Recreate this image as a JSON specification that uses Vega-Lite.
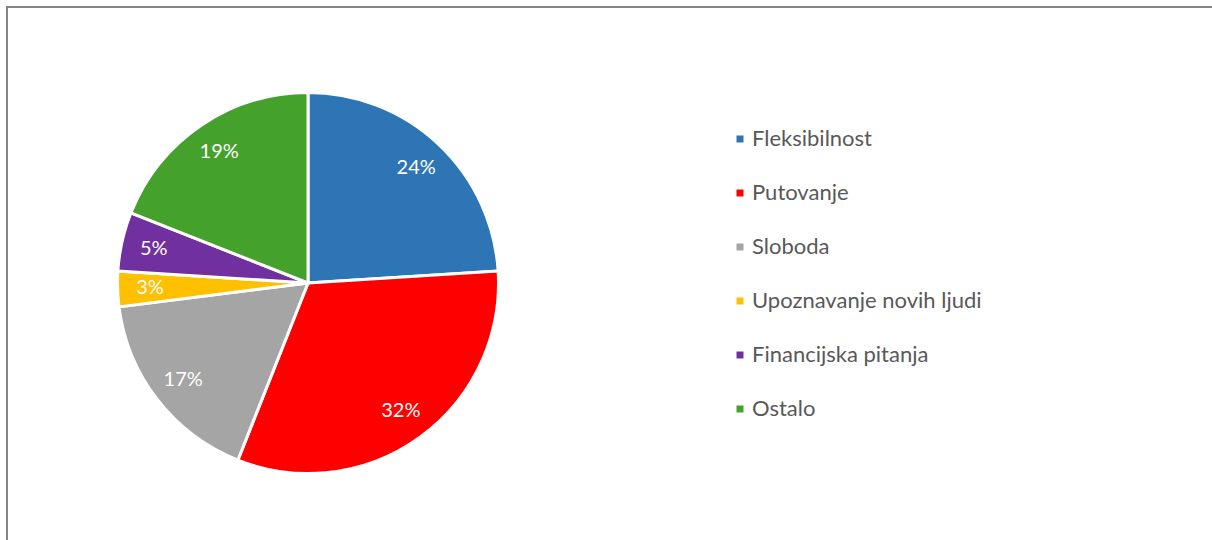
{
  "$schema": "https://vega.github.io/schema/vega-lite/v6.json",
  "autosize": "none",
  "padding": {"left": 7, "top": 7, "right": 0, "bottom": 0},
  "width": 1205,
  "height": 533,
  "background": "white",
  "config": {
    "view": {"stroke": "#868686", "strokeWidth": 2, "strokeDash": [1206, 1737, 534]},
    "font": "Lato"
  },
  "data": {
    "values": [
      {"kategorija": "Fleksibilnost", "udio": 0.24, "red": 1},
      {"kategorija": "Putovanje", "udio": 0.32, "red": 2},
      {"kategorija": "Sloboda", "udio": 0.17, "red": 3},
      {"kategorija": "Upoznavanje novih ljudi", "udio": 0.03, "red": 4},
      {"kategorija": "Financijska pitanja", "udio": 0.05, "red": 5},
      {"kategorija": "Ostalo", "udio": 0.19, "red": 6}
    ]
  },
  "encoding": {
    "theta": {"field": "udio", "type": "quantitative", "stack": true},
    "order": {"field": "red", "type": "quantitative"},
    "x": {"datum": 0.2498, "type": "quantitative", "scale": {"domain": [0, 1], "zero": false, "nice": false}, "axis": null},
    "y": {"datum": 0.4822, "type": "quantitative", "scale": {"domain": [0, 1], "zero": false, "nice": false}, "axis": null}
  },
  "layer": [
    {
      "mark": {"type": "arc", "outerRadius": 190.5, "stroke": "white", "strokeWidth": 3},
      "encoding": {
        "color": {
          "field": "kategorija",
          "type": "nominal",
          "scale": {
            "domain": ["Fleksibilnost", "Putovanje", "Sloboda", "Upoznavanje novih ljudi", "Financijska pitanja", "Ostalo"],
            "range": ["#2E75B6", "#FF0000", "#A5A5A5", "#FFC000", "#7030A0", "#44A12B"]
          },
          "legend": {
            "title": null,
            "orient": "none",
            "legendX": 722,
            "legendY": 121,
            "padding": 0,
            "symbolType": "square",
            "symbolSize": 49,
            "symbolStrokeWidth": 0,
            "labelFont": "Lato",
            "labelFontSize": 22,
            "labelColor": "#595959",
            "labelOffset": 1,
            "labelLimit": 0,
            "rowPadding": 32
          }
        }
      }
    },
    {
      "mark": {"type": "text", "radius": 158, "fontSize": 20, "font": "Lato", "color": "white"},
      "encoding": {
        "text": {"field": "udio", "type": "quantitative", "format": ".0%"}
      }
    }
  ]
}
